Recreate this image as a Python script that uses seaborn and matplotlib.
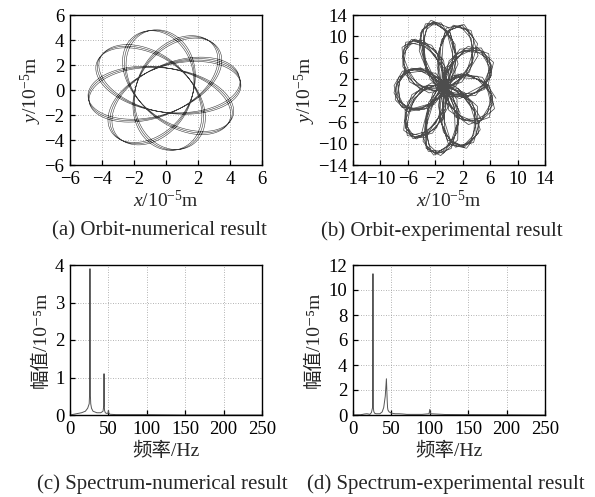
import numpy as np
import pandas as pd
import matplotlib
matplotlib.use("Agg")
import matplotlib.pyplot as plt
import seaborn as sns

# ---------------- data ----------------
# (a) numerical orbit: harmonic components (Hz, amplitudes in 1e-5 m, phases in deg)
orbit_a_freqs = [45.0, 27.12]
orbit_a_x_amp = [3.3, 1.5]
orbit_a_y_amp = [3.3, -1.55]
orbit_a_phase = [15.0, -15.0]
orbit_a_offset = [-0.1, 0.0]
orbit_a_duration = 0.34

# (b) experimental orbit: harmonic components
orbit_b_freqs = [45.0, 12.87, 90.0, 100.0]
orbit_b_x_amp = [3.8, 3.4, 0.5, 0.35]
orbit_b_y_amp = [6.5, -6.0, 0.5, 0.3]
orbit_b_phase = [0.0, 20.0, 0.0, 0.0]
orbit_b_offset = [-1.0, 0.5]
orbit_b_fs = 400.0
orbit_b_duration = 0.9

# (c) numerical spectrum
spec_c_freq = [0, 5, 10, 15, 20, 23, 25, 25.6, 26, 26.4, 27, 28, 30, 35, 40, 43, 44, 44.3, 44.6, 45, 46,
               48, 49.5, 50, 50.5, 52, 60, 100, 150, 200, 250]
spec_c_amp = [0.0, 0.02, 0.04, 0.06, 0.1, 0.18, 0.3, 0.6, 3.9, 0.6, 0.3, 0.18, 0.1, 0.06, 0.06, 0.1, 0.25,
              1.1, 0.25, 0.12, 0.06, 0.04, 0.05, 0.12, 0.05, 0.02, 0.01, 0.01, 0.0, 0.0, 0.0]

# (d) experimental spectrum
spec_d_freq = [0, 10, 15, 18, 20, 22, 24, 25.5, 26, 26.5, 27, 28, 30, 35, 38, 40, 42, 43.5, 44.5, 45, 45.5,
               47, 50, 55, 60, 65, 70, 90, 99, 100, 101, 120, 150, 200, 250]
spec_d_amp = [0.0, 0.02, 0.08, 0.1, 0.08, 0.05, 0.2, 0.6, 11.3, 0.6, 0.3, 0.15, 0.1, 0.1, 0.25, 0.6, 1.5,
              2.9, 1.2, 0.6, 0.4, 0.25, 0.15, 0.1, 0.1, 0.08, 0.05, 0.05, 0.1, 0.45, 0.1, 0.04, 0.03, 0.02, 0.0]

captions = ["(a) Orbit-numerical result", "(b) Orbit-experimental result",
            "(c) Spectrum-numerical result", "(d) Spectrum-experimental result"]

# ---------------- style ----------------
sns.set_theme(style="ticks")
plt.rcParams["font.family"] = ["Liberation Serif", "DejaVu Serif", "Noto Sans CJK SC"]
plt.rcParams["mathtext.fontset"] = "custom"
plt.rcParams["mathtext.rm"] = "Liberation Serif"
plt.rcParams["mathtext.it"] = "Liberation Serif:italic"
plt.rcParams["axes.unicode_minus"] = True

TFS = 13.5   # tick labels
LFS = 14     # axis labels
CFS = 15     # captions


def synth(freqs, xa, ya, ph, off, t):
    x = np.full_like(t, off[0])
    y = np.full_like(t, off[1])
    for f, ax_, ay_, p in zip(freqs, xa, ya, ph):
        arg = 2 * np.pi * f * t + np.deg2rad(p)
        x = x + ax_ * np.cos(arg)
        y = y + ay_ * np.sin(arg)
    return x, y


fig = plt.figure(figsize=(5.95, 4.97), dpi=100)
W, H = 595.0, 497.0


def make_ax(x0, y0, x1, y1):
    return fig.add_axes([x0 / W, 1 - y1 / H, (x1 - x0) / W, (y1 - y0) / H])


ax_a = make_ax(70, 15, 262, 165)
ax_b = make_ax(353, 15, 545, 165)
ax_c = make_ax(70, 265, 262, 415)
ax_d = make_ax(353, 265, 545, 415)


def style(ax):
    ax.grid(True, linestyle=(0, (1, 2)), color="#9a9a9a", linewidth=0.6)
    ax.tick_params(direction="in", length=3.5, width=0.9, labelsize=TFS,
                   top=False, right=False, colors="black")
    ax.tick_params(axis="x", pad=4)
    ax.tick_params(axis="y", pad=4)
    for s in ax.spines.values():
        s.set_visible(True)
        s.set_linewidth(1.0)
        s.set_color("black")
    ax.set_facecolor("white")


# (a)
t_a = np.arange(0, orbit_a_duration, 1 / 4000.0)
xa, ya = synth(orbit_a_freqs, orbit_a_x_amp, orbit_a_y_amp, orbit_a_phase, orbit_a_offset, t_a)
df_a = pd.DataFrame({"x": xa, "y": ya})
sns.lineplot(data=df_a, x="x", y="y", sort=False, estimator=None, ax=ax_a, color="#3a3a3a", linewidth=0.4)
ax_a.set_xlim(-6, 6)
ax_a.set_ylim(-6, 6)
ax_a.set_xticks(np.arange(-6, 7, 2))
ax_a.set_yticks(np.arange(-6, 7, 2))
style(ax_a)
ax_a.set_xlabel(r"$x$/10$^{-5}$m", fontsize=LFS, labelpad=2)
ax_a.set_ylabel(r"$y$/10$^{-5}$m", fontsize=LFS, labelpad=0)

# (b)
t_b = np.arange(0, orbit_b_duration, 1 / orbit_b_fs)
xb, yb = synth(orbit_b_freqs, orbit_b_x_amp, orbit_b_y_amp, orbit_b_phase, orbit_b_offset, t_b)
df_b = pd.DataFrame({"x": xb, "y": yb})
sns.lineplot(data=df_b, x="x", y="y", sort=False, estimator=None, ax=ax_b, color="#111111",
             linewidth=0.55, alpha=0.75)
ax_b.set_xlim(-14, 14)
ax_b.set_ylim(-14, 14)
ax_b.set_xticks(np.arange(-14, 15, 4))
ax_b.set_yticks(np.arange(-14, 15, 4))
style(ax_b)
ax_b.set_xlabel(r"$x$/10$^{-5}$m", fontsize=LFS, labelpad=2)
ax_b.set_ylabel(r"$y$/10$^{-5}$m", fontsize=LFS, labelpad=0)

# (c)
df_c = pd.DataFrame({"f": spec_c_freq, "a": spec_c_amp})
sns.lineplot(data=df_c, x="f", y="a", estimator=None, ax=ax_c, color="#555555", linewidth=0.7)
ax_c.set_xlim(0, 250)
ax_c.set_ylim(0, 4)
ax_c.set_xticks(np.arange(0, 251, 50))
ax_c.set_yticks(np.arange(0, 5, 1))
style(ax_c)
ax_c.set_xlabel("频率/Hz", fontsize=LFS, labelpad=3)
ax_c.set_ylabel("幅值/10⁻⁵m", fontsize=LFS, labelpad=4)

# (d)
df_d = pd.DataFrame({"f": spec_d_freq, "a": spec_d_amp})
sns.lineplot(data=df_d, x="f", y="a", estimator=None, ax=ax_d, color="#555555", linewidth=0.7)
ax_d.set_xlim(0, 250)
ax_d.set_ylim(0, 12)
ax_d.set_xticks(np.arange(0, 251, 50))
ax_d.set_yticks(np.arange(0, 13, 2))
style(ax_d)
ax_d.set_xlabel("频率/Hz", fontsize=LFS, labelpad=3)
ax_d.set_ylabel("幅值/10⁻⁵m", fontsize=LFS, labelpad=4)

# captions
cap_pos = [(159, 231), (442, 231), (162, 484), (446, 484)]
for txt, (cx, cy) in zip(captions, cap_pos):
    fig.text(cx / W, 1 - cy / H, txt, ha="center", va="center", fontsize=CFS)

fig.savefig("out.png", dpi=100, facecolor="white")
